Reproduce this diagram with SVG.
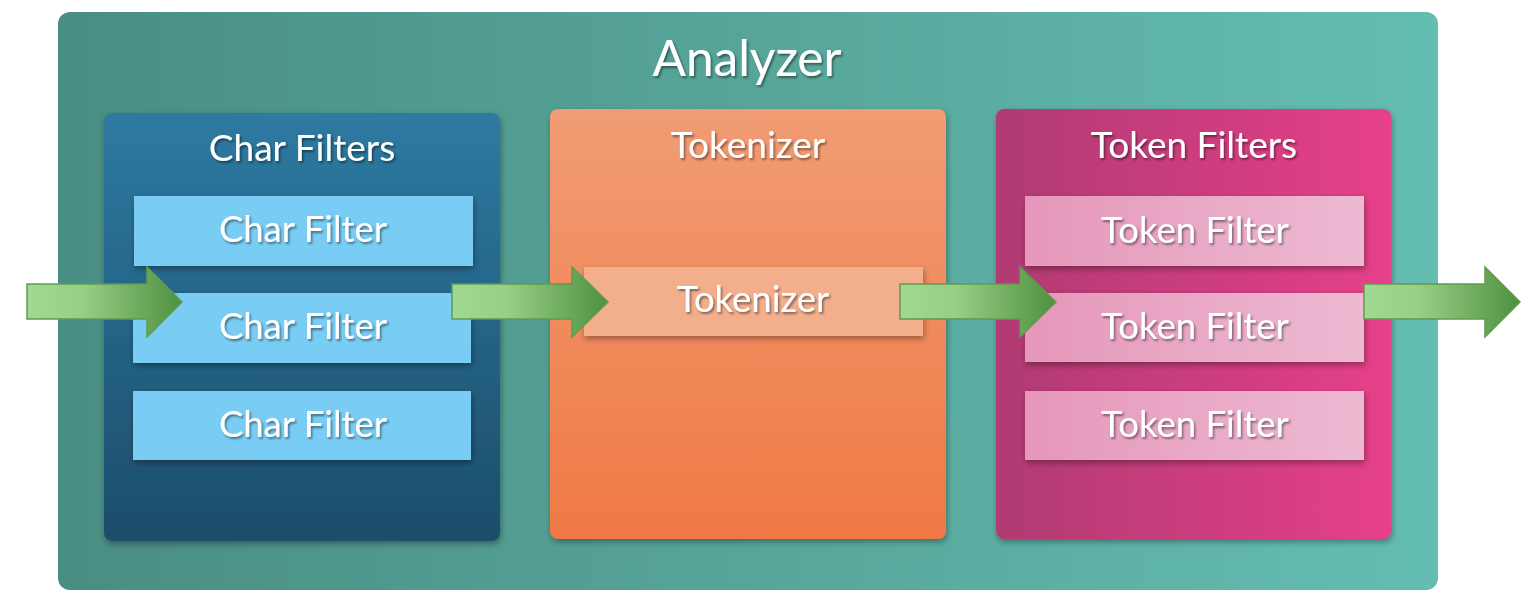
<svg xmlns="http://www.w3.org/2000/svg" width="1530" height="614" viewBox="0 0 1530 614">
<defs>
<linearGradient id="gAn" x1="0" y1="0" x2="1" y2="0"><stop offset="0" stop-color="#4a8d82"/><stop offset="1" stop-color="#64bdb1"/></linearGradient>
<linearGradient id="gCF" x1="0" y1="0" x2="0" y2="1"><stop offset="0" stop-color="#2e7aa2"/><stop offset="1" stop-color="#1c4d6a"/></linearGradient>
<linearGradient id="gTk" x1="0" y1="0" x2="0" y2="1"><stop offset="0" stop-color="#f19c74"/><stop offset="1" stop-color="#ef7945"/></linearGradient>
<linearGradient id="gTF" x1="0" y1="0" x2="1" y2="0"><stop offset="0" stop-color="#b03a72"/><stop offset="1" stop-color="#e6408a"/></linearGradient>
<linearGradient id="gTFb" x1="0" y1="0" x2="1" y2="0"><stop offset="0" stop-color="#e597ba"/><stop offset="1" stop-color="#edbad2"/></linearGradient>
<linearGradient id="gAr" x1="0" y1="0" x2="1" y2="0"><stop offset="0" stop-color="#a2d992"/><stop offset="0.35" stop-color="#98cf86"/><stop offset="1" stop-color="#4f9040"/></linearGradient>
<filter id="sh" x="-10%" y="-10%" width="120%" height="130%"><feDropShadow dx="1" dy="3" stdDeviation="3" flood-color="#000" flood-opacity="0.35"/></filter>
<filter id="ts" x="-10%" y="-20%" width="120%" height="150%"><feDropShadow dx="1.5" dy="2" stdDeviation="1" flood-color="#000" flood-opacity="0.45"/></filter>
</defs>
<style>
text{font-family:Lato,"Open Sans","Liberation Sans",sans-serif;fill:#fff;text-anchor:middle;filter:url(#ts)}
.title{font-size:49.5px}
.h{font-size:37px}
.b{font-size:36.5px}
.cf{fill:#79cdf5}
.arrow{fill:url(#gAr);stroke:#5f9c4c;stroke-width:1.5}
</style>
<g id="analyzer">
<rect x="58" y="12" width="1380" height="578" rx="12" fill="url(#gAn)"/>
<text class="title" x="747" y="76">Analyzer</text>
</g>
<g id="char-filters">
<rect x="104" y="113" width="396" height="428" rx="8" fill="url(#gCF)" filter="url(#sh)"/>
<text class="h" x="302" y="161">Char Filters</text>
</g>
<g id="char-filter-1">
<rect class="cf" x="134" y="196" width="339" height="70" filter="url(#sh)"/>
<text class="b" x="303" y="242">Char Filter</text>
</g>
<g id="char-filter-2">
<rect class="cf" x="133" y="293" width="338" height="70" filter="url(#sh)"/>
<text class="b" x="303" y="339">Char Filter</text>
</g>
<g id="char-filter-3">
<rect class="cf" x="133" y="391" width="338" height="69" filter="url(#sh)"/>
<text class="b" x="303" y="437">Char Filter</text>
</g>
<g id="tokenizer-panel">
<rect x="550" y="109" width="396" height="430" rx="8" fill="url(#gTk)" filter="url(#sh)"/>
<text class="h" x="748" y="158">Tokenizer</text>
</g>
<g id="tokenizer">
<rect x="584" y="267" width="339" height="69" fill="#f3ae8c" filter="url(#sh)"/>
<text class="b" x="753" y="312">Tokenizer</text>
</g>
<g id="token-filters">
<rect x="996" y="109" width="395" height="430" rx="8" fill="url(#gTF)" filter="url(#sh)"/>
<text class="h" x="1194" y="158">Token Filters</text>
</g>
<g id="token-filter-1">
<rect x="1025" y="196" width="339" height="70" fill="url(#gTFb)" filter="url(#sh)"/>
<text class="b" x="1195" y="243">Token Filter</text>
</g>
<g id="token-filter-2">
<rect x="1025" y="293" width="339" height="69" fill="url(#gTFb)" filter="url(#sh)"/>
<text class="b" x="1195" y="339">Token Filter</text>
</g>
<g id="token-filter-3">
<rect x="1025" y="391" width="339" height="69" fill="url(#gTFb)" filter="url(#sh)"/>
<text class="b" x="1195" y="437">Token Filter</text>
</g>
<g id="connectors">
<path class="arrow" d="M27 284 H147 V267 L182 302 L147 337 V319 H27 Z"/>
<path class="arrow" d="M452 284 H572 V267 L608 302 L572 337 V319 H452 Z"/>
<path class="arrow" d="M900 284 H1020 V267 L1056 302 L1020 337 V319 H900 Z"/>
<path class="arrow" d="M1364 284 H1485 V267 L1520 302 L1485 337 V319 H1364 Z"/>
</g>
</svg>
